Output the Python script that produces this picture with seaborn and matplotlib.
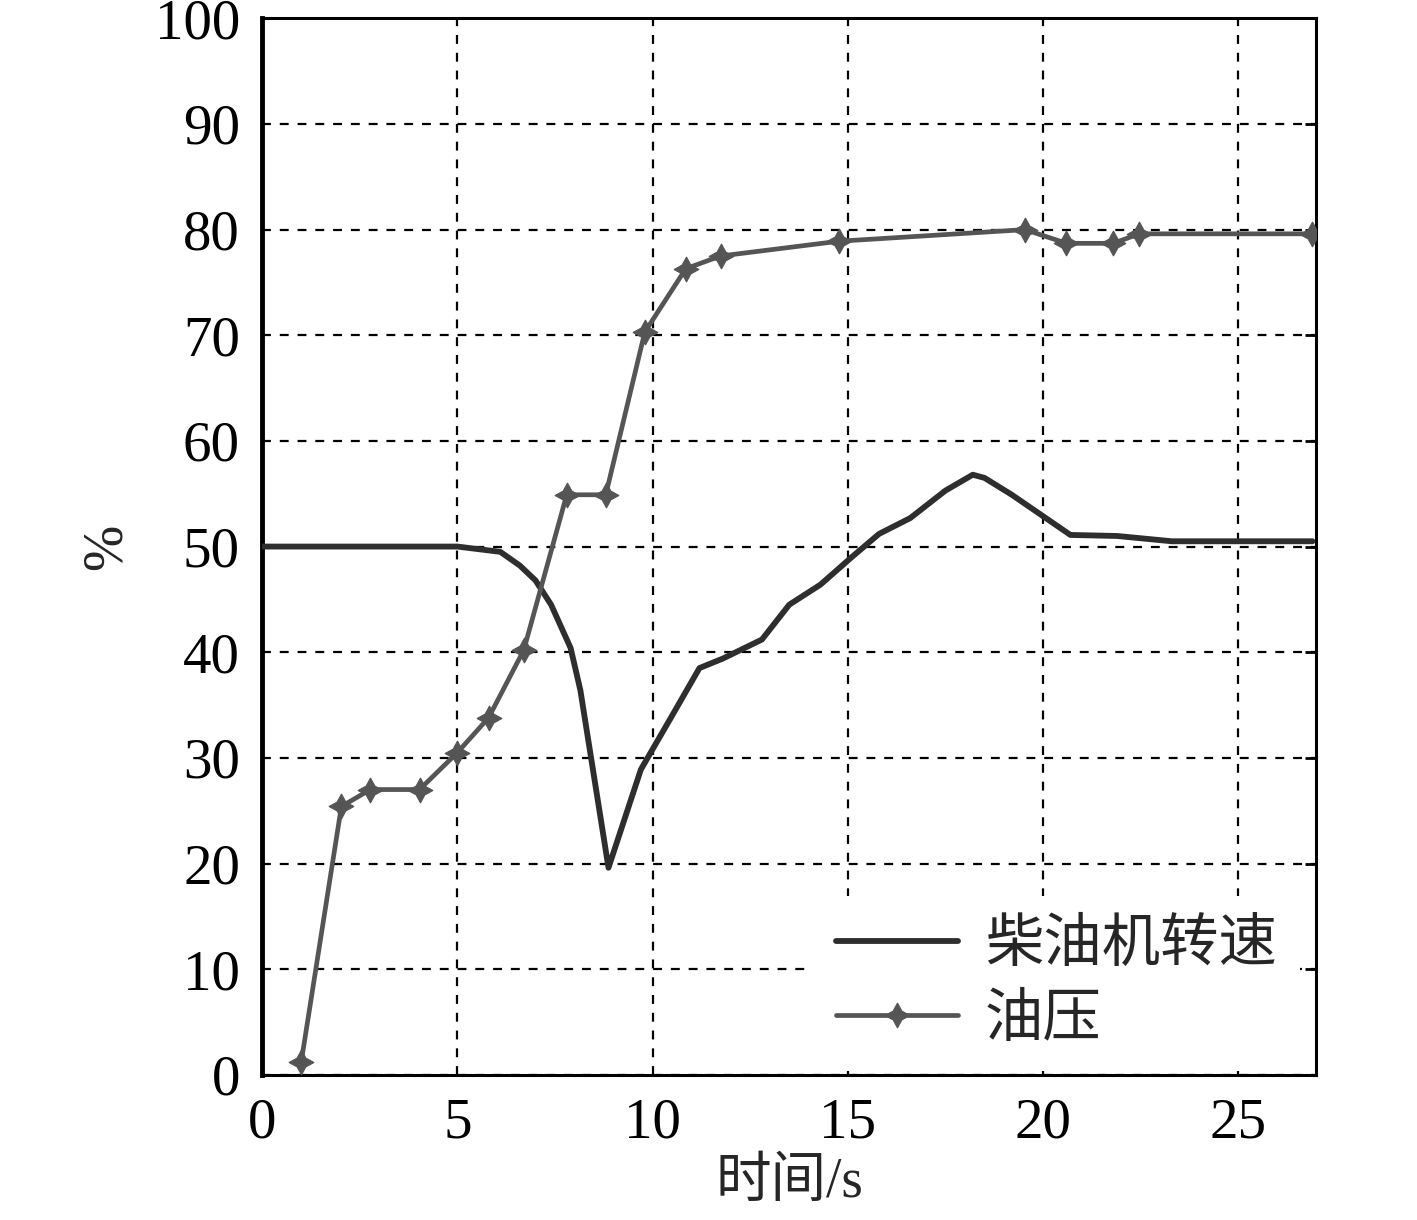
import pandas as pd
import numpy as np
import seaborn as sns
import matplotlib
matplotlib.use('Agg')
from matplotlib import pyplot as plt

# diesel engine speed (no markers)
speed_t = [0, 5.0, 6.1, 6.6, 7.0, 7.4, 7.9, 8.15, 8.87, 9.7, 10.5, 11.2, 11.8, 12.8, 13.5,
           14.3, 15.1, 15.8, 16.6, 17.5, 18.2, 18.5, 19.2, 19.95, 20.7, 21.9, 23.3, 26.9]
speed_v = [50, 50, 49.5, 48.2, 46.8, 44.5, 40.4, 36.4, 19.6, 28.9, 34.0, 38.5, 39.4, 41.2, 44.5,
           46.4, 49.0, 51.2, 52.7, 55.3, 56.8, 56.5, 54.9, 53.0, 51.1, 51.0, 50.5, 50.5]

# oil pressure (with markers)
oil_t = [1.0, 2.03, 2.77, 4.03, 5.0, 5.8, 6.7, 7.8, 8.8, 9.8, 10.85, 11.74, 14.77,
         19.54, 20.6, 21.8, 22.46, 26.9]
oil_v = [1.2, 25.4, 27.0, 27.0, 30.5, 33.8, 40.2, 54.9, 54.9, 70.3, 76.3, 77.5, 78.9,
         80.0, 78.7, 78.7, 79.6, 79.6]

labels = ['柴油机转速', '油压']
xticks = [0, 5, 10, 15, 20, 25]
yticks = [0, 10, 20, 30, 40, 50, 60, 70, 80, 90, 100]

sns.set_style('white')
plt.rcParams['font.family'] = ['Liberation Serif', 'Noto Sans CJK SC']
plt.rcParams['axes.unicode_minus'] = False

fig = plt.figure(figsize=(14.17, 12.2), dpi=100)
ax = fig.add_axes([0.185, 0.119, 0.744, 0.866])

sns.lineplot(x=speed_t, y=speed_v, ax=ax, color='#2e2e2e', lw=4.2, sort=False,
             label=labels[0], zorder=3)
sns.lineplot(x=oil_t, y=oil_v, ax=ax, color='#555555', lw=3.4, sort=False,
             marker=(4, 1, 0), markersize=18, markeredgecolor='#555555',
             markerfacecolor='#555555', label=labels[1], zorder=4)

ax.set_xlim(0, 27)
ax.set_ylim(0, 100)
ax.set_xticks(xticks)
ax.set_yticks(yticks)
ax.grid(True, color='black', linestyle=(0, (4, 4)), lw=1.6)
for s in ax.spines.values():
    s.set_color('black')
    s.set_linewidth(2.2)
ax.spines['left'].set_linewidth(3.5)
ax.tick_params(direction='in', length=8, width=2, labelsize=41, colors='black',
               right=True, top=False, pad=16)

ax.set_xlabel('时间/s', fontsize=40, labelpad=6)
ax.set_ylabel('%', fontsize=40, labelpad=16)

leg = ax.legend(loc='lower right', bbox_to_anchor=(1.012, -0.024), fontsize=42,
                frameon=True, framealpha=1, facecolor='white', edgecolor='none',
                handlelength=2.1, handletextpad=0.45, labelspacing=0.35, borderpad=0.4,
                fancybox=False)
leg.set_zorder(5)

fig.savefig('out.png', dpi=100)
